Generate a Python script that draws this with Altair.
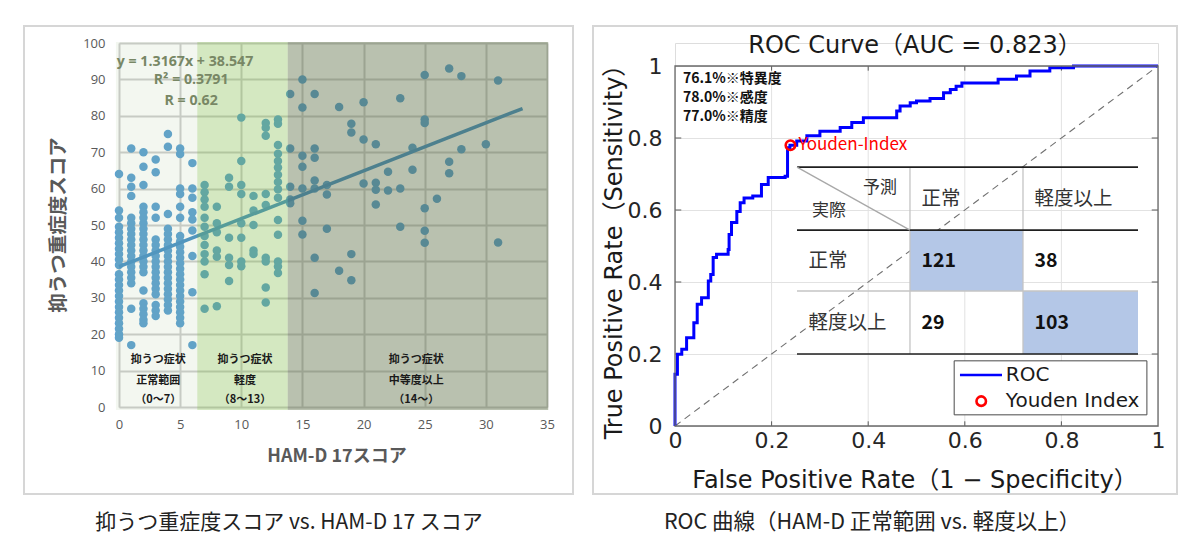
import altair as alt
import pandas as pd

# ================= Left panel data: 抑うつ重症度スコア vs HAM-D 17 =================
ham_scores = [0, 1, 2, 3, 4, 5, 6, 7, 8, 9, 10, 11, 12, 13, 14, 15, 16, 17, 18, 19,
              20, 21, 22, 23, 24, 25, 26, 27, 28, 30, 31]
severity_by_score = [
    [64, 54, 52, 49.5, 48, 46.5, 45, 43.5, 42, 40.5, 39, 36.5, 35, 33.5, 32, 30.5, 29, 27.5, 26, 24.5, 23, 21.5, 20, 19],
    [71, 63, 60.5, 58, 52, 50.5, 49, 47.5, 46, 44.5, 43, 41.5, 40, 38.5, 37, 35.5, 34, 27, 17],
    [70, 66, 61, 55, 53.5, 52, 50.5, 49, 47.5, 46, 44.5, 43, 41.5, 40, 38.5, 37, 32, 28.5, 27, 25.5, 24, 23],
    [68, 64.5, 55, 52, 46, 44.5, 43, 41.5, 40, 38.5, 37, 35.5, 34, 32.5, 31, 28, 26.5, 25],
    [75, 71.5, 53, 49, 47.5, 46, 44.5, 43, 41.5, 40, 38.5, 37, 35.5, 34, 32.5, 31, 29.5, 28, 26.5],
    [71, 69.5, 60, 58.5, 55, 52, 47, 45.5, 44, 42.5, 41, 39.5, 38, 36.5, 35, 33.5, 32, 30.5, 29, 27.5, 26, 24.5, 23],
    [67, 60, 57.5, 53.5, 51.5, 48.5, 41.5, 31.5, 17],
    [61, 59, 57, 55, 52, 49.5, 47, 44.5, 42, 40, 36.5, 27],
    [55, 50.5, 48, 43, 41.3, 27.7],
    [63, 60.5, 46.5, 41, 39, 34.6],
    [79.5, 67.6, 61, 58.5, 50.5, 46.5, 40, 38.7],
    [58, 54, 50, 43, 42],
    [78, 76.7, 74.5, 58.5, 55.5, 41, 40, 32.8, 28.7],
    [79, 77.8, 72, 69.6, 67.6, 65.8, 63.8, 61.8, 59.8, 57.5, 51.4, 47.3, 40, 38.6, 36.8],
    [86, 71, 60.5, 57, 56],
    [90, 82.3, 69, 66, 60, 51.2, 47.4],
    [86, 71, 68.5, 62.2, 60, 41, 31.3],
    [61, 58.4, 49],
    [82.4, 37.4],
    [77.8, 75.4, 42, 34.8],
    [83.7, 73.5, 61.4],
    [72.2, 61.6, 59.7, 55.6],
    [64.6, 59.5],
    [84.8, 60, 49.5],
    [71.2, 65.2],
    [91.2, 79, 78, 54.6, 48.4, 45.1],
    [57.2],
    [93, 67.4, 64.2],
    [90.9, 70.8],
    [72.2],
    [89.7, 45.2],
]

trend_slope = 1.3167
trend_intercept = 38.547
trend_x_range = [0, 33]

equation_lines = ["y = 1.3167x + 38.547", "R² = 0.3791", "R = 0.62"]
equation_x = [5.4, 5.9, 5.9]
equation_y = [94.8, 89.8, 84.1]

region_names = ["正常範囲", "軽度", "中等度以上"]
region_start = [-0.25, 6.4, 13.8]
region_end = [6.4, 13.8, 35.1]
region_label_lines = [
    ["抑うつ症状", "正常範囲", "（0～7）"],
    ["抑うつ症状", "軽度", "（8～13）"],
    ["抑うつ症状", "中等度以上", "（14～）"],
]
region_label_x = [3.2, 10.3, 24.3]
region_label_y = [12.9, 7.1, 1.9]

# ================= Right panel data: ROC =================
roc_fpr = [0, 0, 0.005, 0.005, 0.014, 0.014, 0.024, 0.024, 0.039, 0.039, 0.046, 0.046,
           0.055, 0.055, 0.069, 0.069, 0.074, 0.074, 0.079, 0.079, 0.086, 0.086, 0.110, 0.110,
           0.112, 0.112, 0.117, 0.117, 0.128, 0.128, 0.135, 0.135, 0.143, 0.143, 0.161, 0.161,
           0.179, 0.179, 0.193, 0.193, 0.228, 0.228, 0.233, 0.233, 0.238, 0.238, 0.252, 0.252,
           0.273, 0.273, 0.300, 0.300, 0.342, 0.342, 0.366, 0.366, 0.390, 0.390, 0.459, 0.459,
           0.466, 0.466, 0.487, 0.487, 0.500, 0.500, 0.528, 0.528, 0.556, 0.556, 0.570, 0.570,
           0.582, 0.582, 0.594, 0.594, 0.669, 0.669, 0.707, 0.707, 0.735, 0.735, 0.776, 0.776,
           0.825, 0.825, 1.0]
roc_tpr = [0, 0.144, 0.144, 0.199, 0.199, 0.213, 0.213, 0.245, 0.245, 0.287, 0.287, 0.338,
           0.338, 0.356, 0.356, 0.403, 0.403, 0.421, 0.421, 0.468, 0.468, 0.477, 0.477, 0.490,
           0.490, 0.532, 0.532, 0.565, 0.565, 0.596, 0.596, 0.620, 0.620, 0.633, 0.633, 0.639,
           0.639, 0.671, 0.671, 0.690, 0.690, 0.694, 0.694, 0.773, 0.773, 0.780, 0.780, 0.792,
           0.792, 0.806, 0.806, 0.819, 0.819, 0.829, 0.829, 0.843, 0.843, 0.856, 0.856, 0.875,
           0.875, 0.889, 0.889, 0.898, 0.898, 0.903, 0.903, 0.910, 0.910, 0.926, 0.926, 0.935,
           0.935, 0.944, 0.944, 0.953, 0.953, 0.963, 0.963, 0.972, 0.972, 0.986, 0.986, 0.995,
           0.995, 1.0, 1.0]
youden_fpr = 0.239
youden_tpr = 0.780
metric_lines = ["76.1%※特異度", "78.0%※感度", "77.0%※精度"]
table_col_labels = ["正常", "軽度以上"]
table_row_labels = ["正常", "軽度以上"]
table_counts = [[121, 38], [29, 103]]
tick_vals = [0, 0.2, 0.4, 0.6, 0.8, 1]

# ---------------- layout constants (not data) ----------------
L_W, L_H = 428, 364
R_W, R_H = 483, 360
R_TOP = 23                      # right plot starts 23px lower than the left one
JP = "Noto Sans CJK JP"
LATIN = "DejaVu Sans, Noto Sans CJK JP"
TABLE_COL_EDGES = [0.2526, 0.4865, 0.7205, 0.9586]
TABLE_ROW_EDGES = [0.719, 0.544, 0.375, 0.200]
TABLE_PAD = 0.024
LEGEND_BOX = [0.578, 0.977, 0.031, 0.181]
METRIC_POS = [0.0166, [0.963, 0.911, 0.859]]
TICK_LEN = 0.013

one = pd.DataFrame({"k": [0]})

# ================= Left chart =================
lx_scale = alt.Scale(domain=[0, 35], nice=False, zero=False)
ly_scale = alt.Scale(domain=[0, 100], nice=False, zero=False)
lx_axis = alt.Axis(values=list(range(0, 36, 5)), title=None, grid=True, gridColor="#cfcfcf",
                   gridWidth=2, domain=False, ticks=False, labelFont="Open Sans", labelFontSize=13,
                   labelColor="#595959", labelPadding=11, labelFlush=False)
ly_axis = alt.Axis(values=list(range(0, 101, 10)), title=None, grid=True, gridColor="#cfcfcf",
                   gridWidth=2, domain=False, ticks=False, labelFont="Open Sans", labelFontSize=13,
                   labelColor="#595959", labelPadding=14, labelFlush=False)


def LX(f):
    return alt.X(f, type="quantitative", scale=lx_scale, axis=lx_axis)


def LY(f):
    return alt.Y(f, type="quantitative", scale=ly_scale, axis=ly_axis)


scatter_rows = []
for s, vals in zip(ham_scores, severity_by_score):
    for v in vals:
        scatter_rows.append({"ham": s, "sev": v})
scatter_df = pd.DataFrame(scatter_rows)

trend_df = pd.DataFrame({"ham": trend_x_range,
                         "sev": [trend_slope * x + trend_intercept for x in trend_x_range]})

points = alt.Chart(scatter_df).mark_circle(size=72, color="#5ea2d2", opacity=1).encode(
    x=LX("ham:Q"), y=LY("sev:Q"))
trend = alt.Chart(trend_df).mark_line(color="#4b93c8", strokeWidth=3.5).encode(
    x=LX("ham:Q"), y=LY("sev:Q"))

region_colors = ["#86b56a", "#70b432", "#4f6538"]
region_alpha = [0.10, 0.30, 0.40]
region_layers = []
for i in range(3):
    rdf = pd.DataFrame({"x0": [region_start[i]], "x1": [region_end[i]]})
    region_layers.append(
        alt.Chart(rdf).mark_rect(color=region_colors[i], opacity=region_alpha[i]).encode(
            x=LX("x0:Q"), x2=alt.X2("x1:Q"), y=alt.value(-1), y2=alt.value(L_H + 3)))

label_rows = []
for i in range(3):
    for j, t in enumerate(region_label_lines[i]):
        label_rows.append({"x": region_label_x[i], "y": region_label_y[j], "t": t})
region_labels = alt.Chart(pd.DataFrame(label_rows)).mark_text(
    font=JP, fontWeight="bold", fontSize=11, color="#1a1a1a").encode(
    x=LX("x:Q"), y=LY("y:Q"), text="t:N")

eq_df = pd.DataFrame({"x": equation_x, "y": equation_y, "t": equation_lines})
eq_text = alt.Chart(eq_df).mark_text(font="Open Sans", fontWeight="bold", fontSize=14.2,
                                     color="#788765").encode(x=LX("x:Q"), y=LY("y:Q"), text="t:N")

l_ytitle = alt.Chart(one).mark_text(text="抑うつ重症度スコア", font=JP, fontWeight="bold",
                                    fontSize=19.5, color="#595959", angle=270).encode(
    x=alt.value(-60), y=alt.value(182))
l_xtitle = alt.Chart(one).mark_text(text="HAM-D 17スコア", font=JP, fontWeight="bold",
                                    fontSize=18, color="#595959").encode(
    x=alt.value(218), y=alt.value(414))
l_frame = alt.Chart(one).mark_rect(fill="transparent", stroke="#d6d6d6", strokeWidth=2).encode(
    x=alt.value(-95), x2=alt.value(454), y=alt.value(-17), y2=alt.value(451))
l_caption = alt.Chart(one).mark_text(text="抑うつ重症度スコア vs. HAM-D 17 スコア", font=JP,
                                     fontSize=21, color="#222222").encode(
    x=alt.value(170), y=alt.value(480))

left = alt.layer(points, trend, *region_layers, region_labels, eq_text,
                 l_ytitle, l_xtitle, l_frame, l_caption).properties(width=L_W, height=L_H)

# ================= Right chart =================
rx_scale = alt.Scale(domain=[0, 1], nice=False, zero=False)
ry_scale = alt.Scale(domain=[0, 1], nice=False, zero=False, range=[R_H + R_TOP, R_TOP])
rx_axis = alt.Axis(values=tick_vals, format=".1~f", title=None, grid=False,
                   domain=False, ticks=False, labelFont=LATIN, labelFontSize=22,
                   labelColor="#262626", labelPadding=4, labelFlush=False)
ry_axis = alt.Axis(values=tick_vals, format=".1~f", title=None, grid=True, gridColor="#e2e2e2",
                   domain=False, ticks=False, labelFont=LATIN, labelFontSize=22,
                   labelColor="#262626", labelPadding=13, labelFlush=False)


def RX(f):
    return alt.X(f, type="quantitative", scale=rx_scale, axis=rx_axis)


def RY(f):
    return alt.Y(f, type="quantitative", scale=ry_scale, axis=ry_axis)


vgrid = alt.Chart(pd.DataFrame({"x": tick_vals[1:-1], "y0": [0] * 4, "y1": [1] * 4})).mark_rule(
    color="#e2e2e2", strokeWidth=1).encode(x=RX("x:Q"), y=RY("y0:Q"), y2=alt.Y2("y1:Q"))

inner = tick_vals[1:-1]
xt_df = pd.DataFrame({"x": inner * 2, "y0": [0] * 4 + [1] * 4,
                      "y1": [TICK_LEN] * 4 + [1 - TICK_LEN] * 4})
x_ticks = alt.Chart(xt_df).mark_rule(color="#5a5a5a", strokeWidth=1).encode(
    x=RX("x:Q"), y=RY("y0:Q"), y2=alt.Y2("y1:Q"))
yt_df = pd.DataFrame({"y": inner * 2, "x0": [0] * 4 + [1] * 4,
                      "x1": [TICK_LEN] * 4 + [1 - TICK_LEN] * 4})
y_ticks = alt.Chart(yt_df).mark_rule(color="#5a5a5a", strokeWidth=1).encode(
    x=RX("x0:Q"), x2=alt.X2("x1:Q"), y=RY("y:Q"))

diag = alt.Chart(pd.DataFrame({"x": [0, 1], "y": [0, 1]})).mark_line(
    color="#707070", strokeWidth=1.1, strokeDash=[7, 5]).encode(x=RX("x:Q"), y=RY("y:Q"))

roc_df = pd.DataFrame({"fpr": roc_fpr, "tpr": roc_tpr, "i": list(range(len(roc_fpr)))})
roc_line = alt.Chart(roc_df).mark_line(color="#0000ff", strokeWidth=3).encode(
    x=RX("fpr:Q"), y=RY("tpr:Q"), order="i:Q")

ce, re_ = TABLE_COL_EDGES, TABLE_ROW_EDGES
blue_df = pd.DataFrame({"x0": [ce[1], ce[2]], "x1": [ce[2], ce[3]],
                        "y0": [re_[2], re_[3]], "y1": [re_[1], re_[2]]})
blue_cells = alt.Chart(blue_df).mark_rect(color="#b4c7e7").encode(
    x=RX("x0:Q"), x2=alt.X2("x1:Q"), y=RY("y0:Q"), y2=alt.Y2("y1:Q"))

dark_h = pd.DataFrame({"x0": [ce[0]] * 3, "x1": [ce[3]] * 3, "y": [re_[0], re_[1], re_[3]]})
dark_lines = alt.Chart(dark_h).mark_rule(color="#1f1f1f", strokeWidth=1.6).encode(
    x=RX("x0:Q"), x2=alt.X2("x1:Q"), y=RY("y:Q"))
gray_h = pd.DataFrame({"x0": [ce[0]], "x1": [ce[3]], "y": [re_[2]]})
gray_hline = alt.Chart(gray_h).mark_rule(color="#c4c4c4", strokeWidth=1.3).encode(
    x=RX("x0:Q"), x2=alt.X2("x1:Q"), y=RY("y:Q"))
gray_v = pd.DataFrame({"x": [ce[1], ce[2]], "y0": [re_[3]] * 2, "y1": [re_[0]] * 2})
gray_vlines = alt.Chart(gray_v).mark_rule(color="#c4c4c4", strokeWidth=1.3).encode(
    x=RX("x:Q"), y=RY("y0:Q"), y2=alt.Y2("y1:Q"))
hdr_diag = alt.Chart(pd.DataFrame({"x": [ce[0], ce[1]], "y": [re_[0], re_[1]]})).mark_line(
    color="#a8a8a8", strokeWidth=1.3).encode(x=RX("x:Q"), y=RY("y:Q"))

row_centers = [(re_[0] + re_[1]) / 2, (re_[1] + re_[2]) / 2, (re_[2] + re_[3]) / 2]
lbl_rows = []
for c, t in enumerate(table_col_labels):
    lbl_rows.append({"x": ce[c + 1] + TABLE_PAD, "y": row_centers[0], "t": t})
for r, t in enumerate(table_row_labels):
    lbl_rows.append({"x": ce[0] + TABLE_PAD, "y": row_centers[r + 1], "t": t})
table_labels = alt.Chart(pd.DataFrame(lbl_rows)).mark_text(
    font=JP, fontSize=19.5, color="#333333", align="left", baseline="middle").encode(
    x=RX("x:Q"), y=RY("y:Q"), text="t:N")

corner_df = pd.DataFrame({"x": [0.4244, 0.3188], "y": [0.661, 0.597], "t": ["予測", "実際"]})
corner_labels = alt.Chart(corner_df).mark_text(
    font=JP, fontSize=17, color="#333333", baseline="middle").encode(
    x=RX("x:Q"), y=RY("y:Q"), text="t:N")

cnt_rows = []
for r in range(2):
    for c in range(2):
        cnt_rows.append({"x": ce[c + 1] + TABLE_PAD, "y": row_centers[r + 1],
                         "t": str(table_counts[r][c])})
count_text = alt.Chart(pd.DataFrame(cnt_rows)).mark_text(
    font=JP, fontSize=19.5, fontWeight="bold", color="#111111", align="left",
    baseline="middle").encode(x=RX("x:Q"), y=RY("y:Q"), text="t:N")

yd_df = pd.DataFrame({"fpr": [youden_fpr], "tpr": [youden_tpr], "t": ["Youden-Index"]})
youden_pt = alt.Chart(yd_df).mark_point(shape="circle", filled=False, color="#ff0000",
                                        strokeWidth=2.6, size=90, opacity=1).encode(
    x=RX("fpr:Q"), y=RY("tpr:Q"))
youden_txt = alt.Chart(yd_df).mark_text(font=JP, fontSize=17, color="#ff0000", align="left",
                                        baseline="middle", dx=8).encode(
    x=RX("fpr:Q"), y=RY("tpr:Q"), text="t:N")

metrics_df = pd.DataFrame({"t": metric_lines, "x": [METRIC_POS[0]] * 3, "y": METRIC_POS[1]})
metrics = alt.Chart(metrics_df).mark_text(
    font=JP, fontSize=14, fontWeight="bold", color="#111111", align="left",
    baseline="middle").encode(x=RX("x:Q"), y=RY("y:Q"), text="t:N")

box = alt.Chart(pd.DataFrame({"x0": [0], "x1": [1], "y0": [0], "y1": [1]})).mark_rect(
    fill="transparent", stroke="#6a6a6a", strokeWidth=1.3).encode(
    x=RX("x0:Q"), x2=alt.X2("x1:Q"), y=RY("y0:Q"), y2=alt.Y2("y1:Q"))

lb = LEGEND_BOX
leg_box = alt.Chart(pd.DataFrame({"x0": [lb[0]], "x1": [lb[1]], "y0": [lb[2]], "y1": [lb[3]]})).mark_rect(
    fill="white", stroke="#4a4a4a", strokeWidth=1).encode(
    x=RX("x0:Q"), x2=alt.X2("x1:Q"), y=RY("y0:Q"), y2=alt.Y2("y1:Q"))
leg_line = alt.Chart(pd.DataFrame({"x0": [0.590], "x1": [0.677], "y": [0.142]})).mark_rule(
    color="#0000ff", strokeWidth=2.5).encode(x=RX("x0:Q"), x2=alt.X2("x1:Q"), y=RY("y:Q"))
leg_circ = alt.Chart(pd.DataFrame({"x": [0.634], "y": [0.069]})).mark_point(
    shape="circle", filled=False, color="#ff0000", strokeWidth=2.6, size=90, opacity=1).encode(
    x=RX("x:Q"), y=RY("y:Q"))
leg_txt = alt.Chart(pd.DataFrame({"x": [0.685, 0.685], "y": [0.142, 0.069],
                                  "t": ["ROC", "Youden Index"]})).mark_text(
    font=LATIN, fontSize=20, color="#1a1a1a", align="left", baseline="middle").encode(
    x=RX("x:Q"), y=RY("y:Q"), text="t:N")

r_title = alt.Chart(one).mark_text(text="ROC Curve（AUC = 0.823）", font=LATIN, fontSize=24,
                                   color="#1a1a1a").encode(x=alt.value(240), y=alt.value(R_TOP - 20))
r_xtitle = alt.Chart(one).mark_text(text="False Positive Rate（1 − Specificity）", font=LATIN,
                                    fontSize=24, color="#1a1a1a").encode(
    x=alt.value(240), y=alt.value(R_TOP + R_H + 55))
r_ytitle = alt.Chart(one).mark_text(text="True Positive Rate（Sensitivity）", font=LATIN,
                                    fontSize=24, color="#1a1a1a", angle=270).encode(
    x=alt.value(-60), y=alt.value(R_TOP + 180))
r_frame = alt.Chart(one).mark_rect(fill="transparent", stroke="#d6d6d6", strokeWidth=2).encode(
    x=alt.value(-82), x2=alt.value(502), y=alt.value(R_TOP - 40), y2=alt.value(R_TOP + 428))
r_caption = alt.Chart(one).mark_text(text="ROC 曲線（HAM-D 正常範囲 vs. 軽度以上）", font=JP,
                                     fontSize=21.5, color="#222222").encode(
    x=alt.value(197), y=alt.value(R_TOP + 457))

right = alt.layer(vgrid, x_ticks, y_ticks, diag, roc_line, blue_cells, gray_hline, gray_vlines,
                  dark_lines, hdr_diag, table_labels, corner_labels, count_text, youden_pt,
                  youden_txt, metrics, box, leg_box, leg_line, leg_circ, leg_txt, r_title,
                  r_xtitle, r_ytitle, r_frame, r_caption).properties(width=R_W, height=R_H + R_TOP)

chart = alt.hconcat(left, right, spacing=16).properties(
    padding={"left": 22, "top": 24, "right": 0, "bottom": 0}
).configure_view(strokeWidth=0).configure(background="white")

chart.save("out.html", embed_options={"renderer": "svg", "actions": False})
